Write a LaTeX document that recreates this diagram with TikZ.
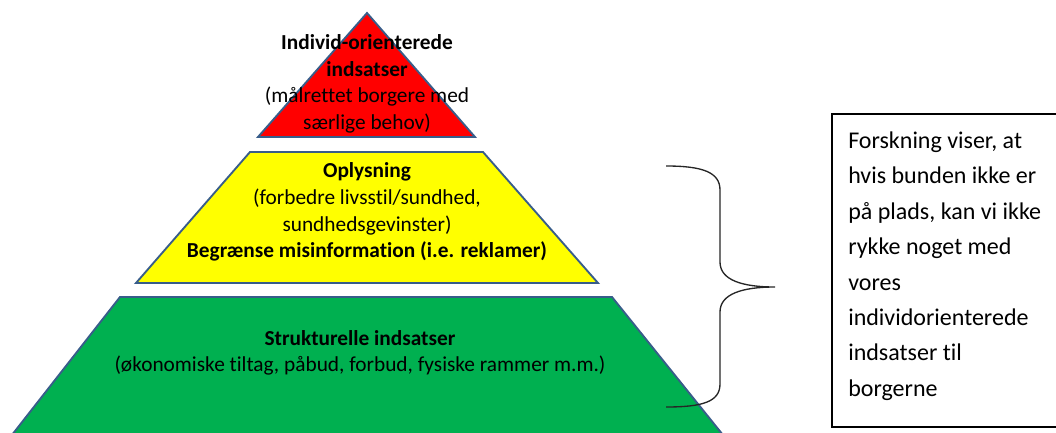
\documentclass[tikz,border=0pt]{standalone}
\usepackage{fontspec}
\setmainfont{Carlito}[Ligatures=NoCommon]
\usetikzlibrary{positioning}
\definecolor{tierred}{RGB}{255,0,0}
\definecolor{tieryellow}{RGB}{255,255,0}
\definecolor{tiergreen}{RGB}{0,176,80}
\definecolor{tieredge}{RGB}{56,93,138}

\begin{document}
\begin{tikzpicture}[x=0.75pt, y=-0.75pt,
  tier/.style={draw=tieredge, line width=1.4pt, line join=miter},
  tiertext/.style={align=center, font=\fontsize{16}{20}\selectfont, inner sep=0pt},
  notebox/.style={draw=black, line width=0.9pt},
  notetext/.style={align=left, font=\fontsize{18}{26.6}\selectfont, inner sep=0pt, anchor=west},
  bracestyle/.style={draw=black!85, line width=1pt}
]
\useasboundingbox (0,0) rectangle (1056,432);

% --- Pyramid tiers ---
\fill[tiergreen] (120,297) -- (612,297) -- (727,440) -- (8,440) -- cycle;
\draw[tier] (8,440) -- (120,297) -- (612,297) -- (727,440);
\draw[tier, fill=tieryellow] (250,152) -- (483,152) -- (598,283) -- (136,283) -- cycle;
\draw[tier, fill=tierred] (367,13) -- (475,137) -- (258,137) -- cycle;

% --- Tier labels ---
\node[tiertext] (toplabel) at (367,84) {\textbf{Individ-orienterede}\\\textbf{indsatser}\\(målrettet borgere med\\særlige behov)};
\node[tiertext] (midlabel) at (367,212) {\textbf{Oplysning}\\(forbedre livsstil/sundhed,\\sundhedsgevinster)\\\textbf{Begrænse misinformation (i.e. reklamer)}};
\node[tiertext] (baselabel) at (360,353) {\textbf{Strukturelle indsatser}\\(økonomiske tiltag, påbud, forbud, fysiske rammer m.m.)};

% --- Brace ---
\coordinate (btop) at (666,166);
\coordinate (btip) at (775,287);
\coordinate (bbot) at (666,407);
\draw[bracestyle] (btop) .. controls (702,166) and (720,172) .. (720,190) -- (720,262)
  .. controls (720,280) and (742,287) .. (btip)
  .. controls (742,287) and (720,294) .. (720,312) -- (720,384)
  .. controls (720,402) and (702,407) .. (bbot);

% --- Note box ---
\draw[notebox] (832,114) rectangle (1064,427);
\node[notetext] (note) at (848,266) {Forskning viser, at\\hvis bunden ikke er\\på plads, kan vi ikke\\rykke noget med\\vores\\individorienterede\\indsatser til\\borgerne};

\end{tikzpicture}
\end{document}
